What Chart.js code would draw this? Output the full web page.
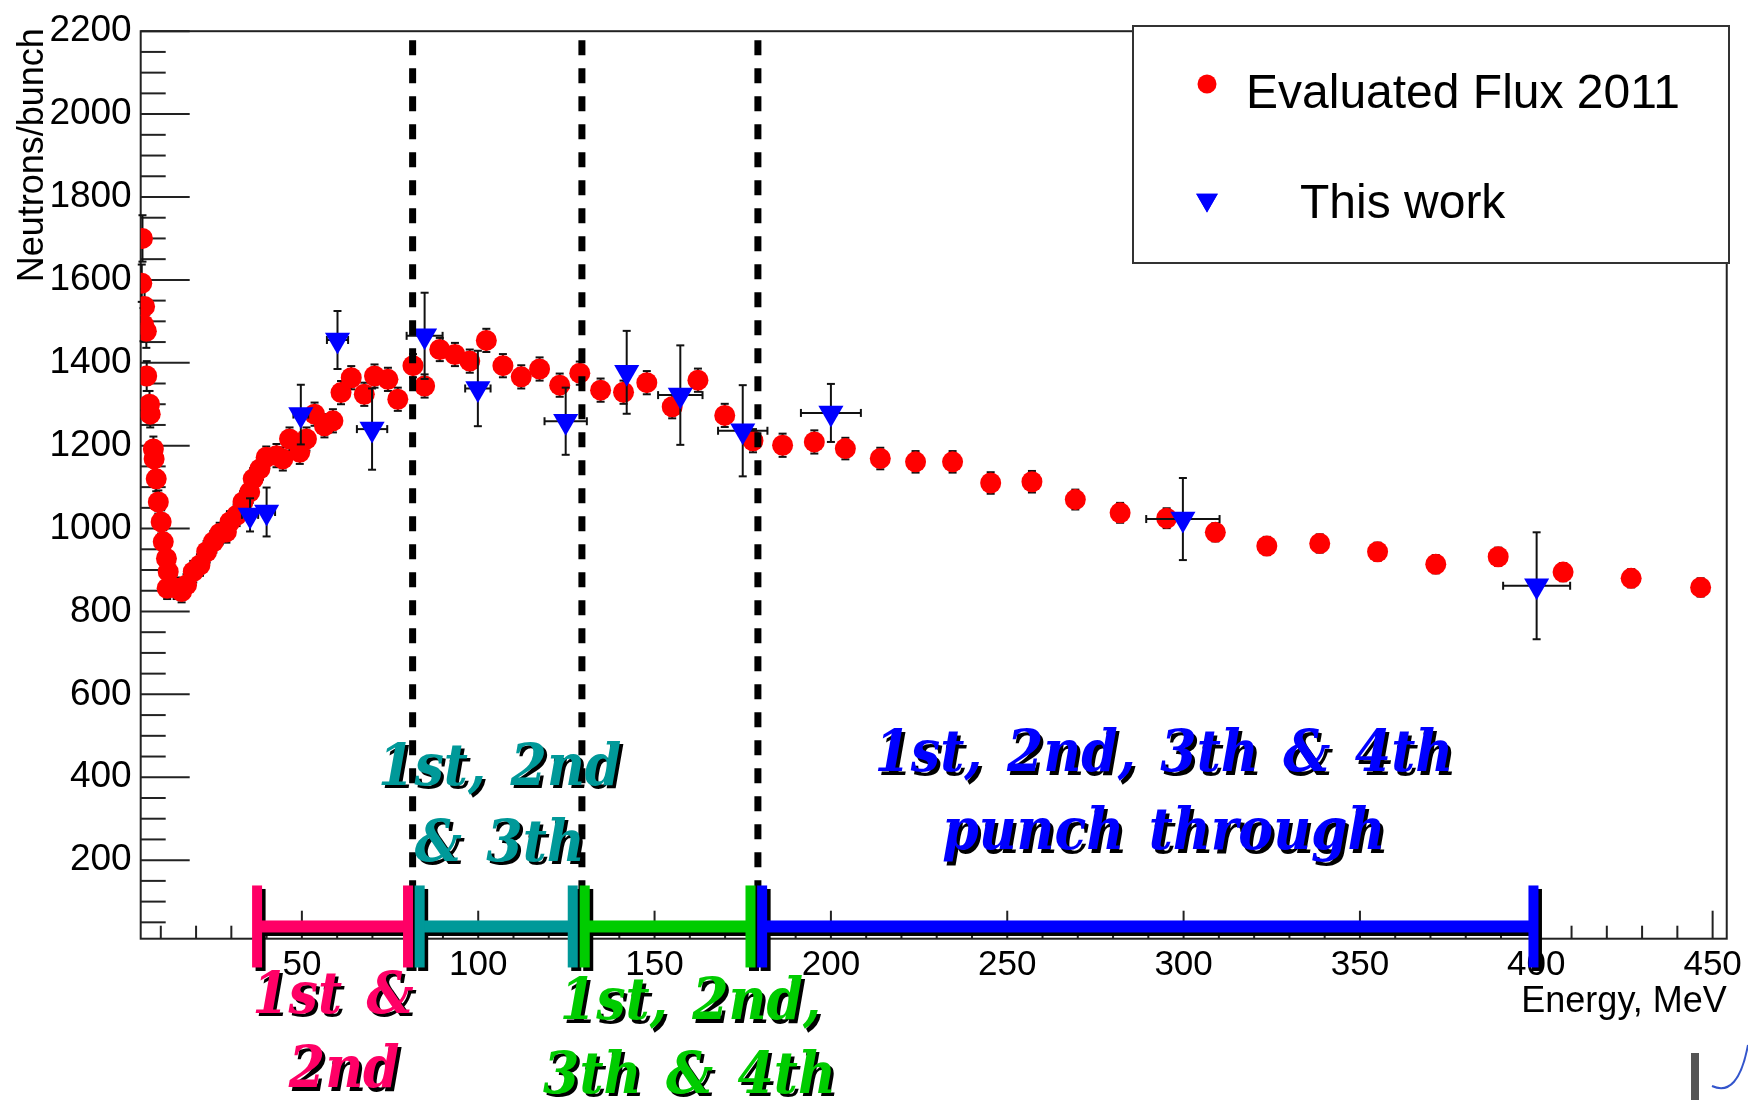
<!DOCTYPE html>
<html>
<head>
<meta charset="utf-8">
<script src="https://cdn.jsdelivr.net/npm/chart.js@4.4.1/dist/chart.umd.min.js"></script>
<style>
  html, body { margin: 0; padding: 0; background: #fff; }
  #wrap { width: 1748px; height: 1100px; }
</style>
</head>
<body>
<div id="wrap"><canvas id="fluxChart" width="1748" height="1100"></canvas></div>
<script>
// Evaluated Flux 2011 (red points)
const fluxE = [4.8, 4.6, 5.4, 5.1, 5.9, 6.0, 6.8, 7.0, 7.9, 8.1,
	8.7, 9.3, 10.1, 10.7, 11.6, 12.1, 11.8, 14.5, 15.9, 17.3,
	19.2, 21.1, 23.0, 24.9, 26.7, 28.6, 29.6, 31.5, 33.3, 35.2,
	36.2, 38.1, 39.9, 42.8, 44.6, 46.5, 49.4, 51.3, 53.6, 56.4,
	58.8, 61.1, 64.0, 67.7, 70.6, 74.4, 77.2, 81.5, 84.8, 89.1,
	93.4, 97.6, 102.3, 107.0, 112.2, 117.4, 123.1, 128.8, 134.7, 141.2,
	147.8, 155.0, 162.3, 169.9, 177.9, 186.3, 195.3, 204.1, 214.0, 224.0,
	234.5, 245.3, 257.0, 269.3, 282.0, 295.2, 309.0, 323.6, 338.6, 355.0,
	371.5, 389.2, 407.6, 426.9, 446.6];
const fluxN = [1700, 1592, 1536, 1492, 1476, 1368, 1300, 1276, 1192, 1168,
	1120, 1064, 1016, 968, 928, 896, 856, 856, 848, 864,
	896, 912, 944, 968, 988, 992, 1016, 1032, 1064, 1088,
	1120, 1144, 1172, 1176, 1168, 1216, 1184, 1216, 1276, 1248,
	1260, 1328, 1364, 1324, 1368, 1360, 1312, 1393, 1344, 1432,
	1420, 1404, 1454, 1393, 1366, 1385, 1346, 1375, 1334, 1329,
	1352, 1294, 1358, 1273, 1212, 1201, 1209, 1193, 1169, 1161,
	1161, 1110, 1113, 1070, 1038, 1025, 991, 958, 964, 944,
	914, 932, 895, 880, 858];
const fluxErr = [56, 45, 42, 40, 40, 36, 32, 32, 30, 30,
	30, 28, 28, 28, 26, 26, 26, 26, 26, 26,
	26, 26, 26, 26, 26, 26, 26, 26, 26, 26,
	26, 26, 26, 28, 28, 28, 28, 28, 28, 28,
	28, 28, 28, 28, 28, 28, 28, 28, 28, 28,
	28, 28, 28, 28, 28, 28, 28, 28, 28, 28,
	28, 28, 28, 28, 28, 28, 28, 26, 26, 26,
	26, 26, 26, 24, 24, 24, 22, 22, 22, 22,
	22, 22, 22, 22, 22];

// This work (blue triangles)
const workE = [35.3, 40.0, 49.7, 60.1, 69.9, 84.8, 99.9, 124.8, 142.1, 157.3, 175.0, 200.0, 299.8, 400.1];
const workN = [1033, 1040, 1275, 1455, 1240, 1465, 1338, 1259, 1377, 1322, 1236, 1279, 1023, 862];
const workErrN = [40, 59, 72, 70, 98, 104, 91, 81, 100, 120, 110, 70, 99, 129];
const workErrE = [2.3, 2.4, 2.1, 3.0, 4.3, 5.1, 3.6, 6.0, 0, 6.3, 7.0, 8.5, 10.4, 9.5];

const xTicks = [50, 100, 150, 200, 250, 300, 350, 400, 450];
const yTicks = [200, 400, 600, 800, 1000, 1200, 1400, 1600, 1800, 2000, 2200];

// punch-through regions
const cutLines = [81.4, 129.4, 179.3];
const bandLo = [37.3, 83.4, 130.2, 180.5];
const bandHi = [80.1, 126.8, 177.2, 399.2];
const bandText = [['1st &', '2nd'], ['1st, 2nd', '& 3th'], ['1st, 2nd,', '3th & 4th'], ['1st, 2nd, 3th & 4th', 'punch through']];

const bandColors = ['#ff0066', '#009999', '#00cc00', '#0000ff'];
// text anchors in axis units: [x, baseline y] per line
const bandTextPos = [
	[[58.8, -167.7], [62.0, -347.3]],
	[[106.1, 382.5], [106.1, 198.8]],
	[[160.2, -184.4], [159.9, -361.7]],
	[[294.4, 414.4], [294.4, 226.8]]
];
const bandBarY = 40;

Chart.defaults.font.family = "'Liberation Sans', Arial, sans-serif";

function hline(ctx, x1, y1, x2, y2) {
	ctx.beginPath();
	ctx.moveTo(x1, y1);
	ctx.lineTo(x2, y2);
	ctx.stroke();
}

function shadowText(ctx, txt, x, y, color) {
	ctx.save();
	ctx.translate(x, y);
	ctx.scale(0.9, 1);
	ctx.fillStyle = '#000';
	ctx.fillText(txt, 3.5, 3.5);
	ctx.fillStyle = color;
	ctx.fillText(txt, 0, 0);
	ctx.restore();
}

const rootStyle = {
	id: 'rootStyle',
	beforeDatasetsDraw(chart) {
		const ctx = chart.ctx, a = chart.chartArea;
		const xs = chart.scales.x, ys = chart.scales.y;
		ctx.save();
		ctx.strokeStyle = '#222';
		ctx.lineWidth = 2;
		ctx.strokeRect(a.left, a.top, a.right - a.left, a.bottom - a.top);
		for (let v = 50; v <= 2200; v += 50) {
			const y = ys.getPixelForValue(v);
			hline(ctx, a.left, y, a.left + (v % 200 === 0 ? 49 : 25), y);
		}
		for (let v = 10; v <= 450; v += 10) {
			const x = xs.getPixelForValue(v);
			hline(ctx, x, a.bottom, x, a.bottom - (v % 50 === 0 ? 28 : 13));
		}
		ctx.restore();
	},
	beforeDatasetDraw(chart, args) {
		const ctx = chart.ctx;
		const xs = chart.scales.x, ys = chart.scales.y;
		ctx.save();
		ctx.strokeStyle = '#111';
		ctx.lineWidth = 2;
		if (args.index === 0) {
			fluxE.forEach(function (e, i) {
				const x = xs.getPixelForValue(e);
				const y1 = ys.getPixelForValue(fluxN[i] + fluxErr[i]);
				const y2 = ys.getPixelForValue(fluxN[i] - fluxErr[i]);
				hline(ctx, x, y1, x, y2);
				hline(ctx, x - 4, y1, x + 4, y1);
				hline(ctx, x - 4, y2, x + 4, y2);
			});
		} else {
			workE.forEach(function (e, i) {
				const x = xs.getPixelForValue(e);
				const y = ys.getPixelForValue(workN[i]);
				const y1 = ys.getPixelForValue(workN[i] + workErrN[i]);
				const y2 = ys.getPixelForValue(workN[i] - workErrN[i]);
				hline(ctx, x, y1, x, y2);
				hline(ctx, x - 4, y1, x + 4, y1);
				hline(ctx, x - 4, y2, x + 4, y2);
				if (workErrE[i] > 0) {
					const x1 = xs.getPixelForValue(e - workErrE[i]);
					const x2 = xs.getPixelForValue(e + workErrE[i]);
					hline(ctx, x1, y, x2, y);
					hline(ctx, x1, y - 4, x1, y + 4);
					hline(ctx, x2, y - 4, x2, y + 4);
				}
			});
		}
		ctx.restore();
	},
	afterDatasetsDraw(chart) {
		const ctx = chart.ctx, a = chart.chartArea;
		const xs = chart.scales.x, ys = chart.scales.y;
		ctx.save();

		// dashed separators
		ctx.strokeStyle = '#000';
		ctx.lineWidth = 7;
		ctx.setLineDash([15, 13]);
		cutLines.forEach(function (e) {
			const x = xs.getPixelForValue(e);
			hline(ctx, x, a.top + 9, x, a.bottom);
		});
		ctx.setLineDash([]);

		// labels
		ctx.font = 'bold italic 58px "DejaVu Serif"';
		ctx.textAlign = 'center';
		ctx.textBaseline = 'alphabetic';
		ctx.wordSpacing = '7px';
		bandText.forEach(function (lines, k) {
			lines.forEach(function (txt, j) {
				const p = bandTextPos[k][j];
				shadowText(ctx, txt, xs.getPixelForValue(p[0]), ys.getPixelForValue(p[1]), bandColors[k]);
			});
		});
		ctx.wordSpacing = '0px';

		// H-shaped range bars
		const yb = ys.getPixelForValue(bandBarY);
		[['#000', 3.5], [null, 0]].forEach(function (pass) {
			bandLo.forEach(function (lo, k) {
				const x1 = xs.getPixelForValue(lo), x2 = xs.getPixelForValue(bandHi[k]);
				const off = pass[1];
				ctx.fillStyle = pass[0] || bandColors[k];
				ctx.fillRect(x1 + off, yb - 6 + off, x2 - x1, 12);
				ctx.fillRect(x1 - 5 + off, yb - 41 + off, 10, 82);
				ctx.fillRect(x2 - 5 + off, yb - 41 + off, 10, 82);
			});
		});

		// legend
		ctx.fillStyle = '#fff';
		ctx.fillRect(1133, 26, 596, 237);
		ctx.strokeStyle = '#333';
		ctx.lineWidth = 2;
		ctx.strokeRect(1133, 26, 596, 237);
		ctx.fillStyle = '#ff0000';
		ctx.beginPath();
		ctx.arc(1207, 84, 9.5, 0, Math.PI * 2);
		ctx.fill();
		ctx.fillStyle = '#0000ff';
		Chart.helpers.drawPoint(ctx, { pointStyle: 'triangle', rotation: 180, radius: 12.5, borderWidth: 0 }, 1207, 200);
		ctx.fill();
		ctx.fillStyle = '#000';
		ctx.font = '48px "Liberation Sans"';
		ctx.textAlign = 'left';
		ctx.fillText('Evaluated Flux 2011', 1246, 108);
		ctx.fillText('This work', 1300, 218);

		// axis titles
		ctx.font = '36px "Liberation Sans"';
		ctx.textAlign = 'right';
		ctx.fillText('Energy, MeV', a.right, 1012);
		ctx.save();
		ctx.translate(43, a.top - 3);
		ctx.rotate(-Math.PI / 2);
		ctx.fillText('Neutrons/bunch', 0, 0);
		ctx.restore();

		// slide leftovers in the corner
		ctx.fillStyle = '#555';
		ctx.fillRect(1691, 1053, 8, 47);
		ctx.strokeStyle = '#3355cc';
		ctx.lineWidth = 2;
		ctx.beginPath();
		ctx.moveTo(1712, 1086);
		ctx.quadraticCurveTo(1738, 1098, 1748, 1045);
		ctx.stroke();

		ctx.restore();
	}
};

const ctx = document.getElementById('fluxChart').getContext('2d');
new Chart(ctx, {
	type: 'scatter',
	data: {
		datasets: [
			{
				label: 'Evaluated Flux 2011',
				data: fluxE.map((e, i) => ({ x: e, y: fluxN[i] })),
				pointRadius: 10.5,
				pointBackgroundColor: '#ff0000',
				pointBorderWidth: 0,
				order: 2
			},
			{
				label: 'This work',
				data: workE.map((e, i) => ({ x: e, y: workN[i] })),
				pointStyle: 'triangle',
				pointRotation: 180,
				pointRadius: 14.5,
				pointBackgroundColor: '#0000ff',
				pointBorderWidth: 0,
				order: 1
			}
		]
	},
	options: {
		responsive: false,
		animation: false,
		layout: { padding: { left: 0, right: 20, top: 24.5, bottom: 0 } },
		plugins: {
			legend: { display: false },
			tooltip: { enabled: false }
		},
		scales: {
			x: {
				type: 'linear',
				min: 4.3,
				max: 454,
				afterBuildTicks: function (s) { s.ticks = xTicks.map(v => ({ value: v })); },
				afterFit: function (s) { s.height = 161.3; },
				grid: { display: false, drawTicks: false },
				border: { display: false },
				ticks: { color: '#000', font: { size: 35 }, padding: 6, maxRotation: 0, autoSkip: false, callback: v => String(v) }
			},
			y: {
				type: 'linear',
				min: 10.5,
				max: 2200,
				afterBuildTicks: function (s) { s.ticks = yTicks.map(v => ({ value: v })); },
				afterFit: function (s) { s.width = 140.7; },
				grid: { display: false, drawTicks: false },
				border: { display: false },
				ticks: { color: '#000', font: { size: 37 }, padding: 9, autoSkip: false, callback: v => String(v) }
			}
		}
	},
	plugins: [rootStyle]
});
</script>
</body>
</html>
